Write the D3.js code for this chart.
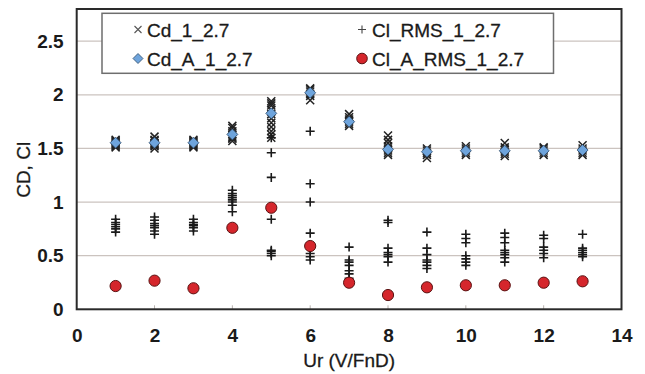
<!DOCTYPE html>
<html>
<head>
<meta charset="utf-8">
<script src="https://cdn.jsdelivr.net/npm/d3@7"></script>
<style>
  html, body { margin: 0; padding: 0; background: #fff; }
  svg { display: block; font-family: "Liberation Sans", Arial, sans-serif; }
</style>
</head>
<body>
<svg id="chart" width="645" height="374"></svg>
<script>
// Reduced velocity values
const ur = [1, 2, 3, 4, 5, 6, 7, 8, 9, 10, 11, 12, 13];

// Drag coefficient samples at each Ur (Cd_1_2.7)
const cdSamples = [
  [1.51, 1.53, 1.54, 1.55, 1.56, 1.57, 1.58, 1.52],
  [1.50, 1.52, 1.53, 1.54, 1.55, 1.57, 1.58, 1.61],
  [1.51, 1.52, 1.53, 1.54, 1.55, 1.56, 1.57, 1.58],
  [1.57, 1.59, 1.60, 1.61, 1.63, 1.66, 1.69, 1.71],
  [1.60, 1.63, 1.66, 1.70, 1.74, 1.78, 1.82, 1.86, 1.90, 1.92, 1.94],
  [1.95, 1.99, 2.01, 2.03, 2.05, 2.06],
  [1.71, 1.73, 1.75, 1.77, 1.79, 1.82],
  [1.44, 1.46, 1.48, 1.50, 1.52, 1.55, 1.58, 1.62],
  [1.41, 1.44, 1.46, 1.48, 1.50],
  [1.44, 1.46, 1.48, 1.50, 1.52],
  [1.43, 1.45, 1.47, 1.49, 1.51, 1.55],
  [1.44, 1.46, 1.48, 1.50, 1.51],
  [1.44, 1.46, 1.48, 1.50, 1.53]
];

// Lift coefficient RMS samples at each Ur (Cl_RMS_1_2.7)
const clRmsSamples = [
  [0.72, 0.75, 0.77, 0.79, 0.81, 0.84],
  [0.70, 0.73, 0.76, 0.78, 0.80, 0.83, 0.86],
  [0.73, 0.76, 0.78, 0.79, 0.81, 0.84],
  [0.91, 0.97, 1.00, 1.02, 1.04, 1.06, 1.08, 1.11],
  [0.50, 0.52, 0.54, 0.55, 0.84, 1.23, 1.46, 1.60],
  [0.46, 0.49, 0.52, 0.71, 1.00, 1.17, 1.66],
  [0.29, 0.33, 0.36, 0.41, 0.44, 0.46, 0.58],
  [0.44, 0.49, 0.51, 0.53, 0.57, 0.81, 0.83],
  [0.38, 0.41, 0.44, 0.46, 0.51, 0.57, 0.72],
  [0.41, 0.44, 0.47, 0.50, 0.62, 0.66, 0.70],
  [0.44, 0.48, 0.51, 0.53, 0.55, 0.62, 0.67, 0.71],
  [0.48, 0.52, 0.55, 0.58, 0.66, 0.69],
  [0.49, 0.51, 0.53, 0.55, 0.57, 0.70]
];

// Averaged drag coefficient (Cd_A_1_2.7)
const cdAvg = [1.553, 1.553, 1.553, 1.631, 1.827, 2.019, 1.749, 1.491, 1.469, 1.478, 1.478, 1.478, 1.485];

// Averaged lift RMS (Cl_A_RMS_1_2.7)
const clAvg = [0.217, 0.267, 0.196, 0.760, 0.947, 0.590, 0.248, 0.133, 0.205, 0.224, 0.224, 0.248, 0.261];

const xTicks = [0, 2, 4, 6, 8, 10, 12, 14];
const yTicks = [0, 0.5, 1, 1.5, 2, 2.5];
const yTickLabels = ["0", "0.5", "1", "1.5", "2", "2.5"];

const seriesNames = ["Cd_1_2.7", "Cl_RMS_1_2.7", "Cd_A_1_2.7", "Cl_A_RMS_1_2.7"];

const svg = d3.select("#chart");
const margin = { left: 76.7, right: 645 - 621.5, top: 9, bottom: 374 - 309.3 };
const W = 645 - margin.left - margin.right;
const H = 374 - margin.top - margin.bottom;

const x = d3.scaleLinear().domain([0, 14]).range([margin.left, margin.left + W]);
const y = d3.scaleLinear().domain([0, 2.8]).range([margin.top + H, margin.top]);

// Horizontal gridlines
svg.append("g")
  .selectAll("line")
  .data(yTicks.filter(d => d > 0))
  .join("line")
  .attr("x1", x(0)).attr("x2", x(14))
  .attr("y1", d => y(d)).attr("y2", d => y(d))
  .attr("stroke", "#cbc3bf").attr("stroke-width", 1.2);

// Small inner tick marks on the x axis
svg.append("g")
  .selectAll("line")
  .data(xTicks.slice(1, -1))
  .join("line")
  .attr("x1", d => x(d)).attr("x2", d => x(d))
  .attr("y1", y(0)).attr("y2", y(0) - 4)
  .attr("stroke", "#b8b2ae").attr("stroke-width", 1);

// Y axis labels
const yAxis = d3.axisLeft(y).tickValues(yTicks).tickSize(0).tickPadding(13)
  .tickFormat((d, i) => yTickLabels[i]);
svg.append("g")
  .attr("transform", `translate(${x(0)},0)`)
  .call(yAxis)
  .call(g => g.select(".domain").remove())
  .selectAll("text")
  .attr("font-family", "Liberation Sans, Arial, sans-serif")
  .attr("font-size", 19).attr("font-weight", "bold").attr("fill", "#1a1a1a");

// X axis labels
const xAxis = d3.axisBottom(x).tickValues(xTicks).tickSize(0).tickPadding(19)
  .tickFormat(d3.format("d"));
svg.append("g")
  .attr("transform", `translate(0,${y(0)})`)
  .call(xAxis)
  .call(g => g.select(".domain").remove())
  .selectAll("text")
  .attr("font-family", "Liberation Sans, Arial, sans-serif")
  .attr("font-size", 19).attr("font-weight", "bold").attr("fill", "#1a1a1a");

// Axis titles
svg.append("text")
  .attr("x", (x(0) + x(14)) / 2).attr("y", 367)
  .attr("text-anchor", "middle")
  .attr("font-size", 19).attr("fill", "#1a1a1a")
  .attr("stroke", "#1a1a1a").attr("stroke-width", 0.3)
  .text("Ur (V/FnD)");

svg.append("text")
  .attr("transform", `translate(30,${y(1.3)}) rotate(-90)`)
  .attr("text-anchor", "middle")
  .attr("font-size", 19).attr("fill", "#1a1a1a")
  .attr("stroke", "#1a1a1a").attr("stroke-width", 0.3)
  .text("CD, Cl");

// Marker drawers
const plot = svg.append("g");
function drawCross(g, cx, cy, r, color, sw) {
  g.append("path")
    .attr("d", `M${cx - r},${cy - r}L${cx + r},${cy + r}M${cx - r},${cy + r}L${cx + r},${cy - r}`)
    .attr("stroke", color).attr("stroke-width", sw).attr("fill", "none");
}
function drawPlus(g, cx, cy, r, color, sw) {
  g.append("path")
    .attr("d", `M${cx - r},${cy}L${cx + r},${cy}M${cx},${cy - r}L${cx},${cy + r}`)
    .attr("stroke", color).attr("stroke-width", sw).attr("fill", "none");
}
function drawDiamond(g, cx, cy, r) {
  g.append("path")
    .attr("d", `M${cx},${cy - r}L${cx + r},${cy}L${cx},${cy + r}L${cx - r},${cy}Z`)
    .attr("fill", "#6ea4dc").attr("stroke", "#2d4a6a").attr("stroke-width", 0.8);
}
function drawCircle(g, cx, cy, r) {
  g.append("circle")
    .attr("cx", cx).attr("cy", cy).attr("r", r)
    .attr("fill", "#d5262c").attr("stroke", "#5a1212").attr("stroke-width", 1);
}

// Cd samples (×)
ur.forEach((u, i) => cdSamples[i].forEach(v => drawCross(plot, x(u), y(v), 4, "#222", 1.5)));
// Cl RMS samples (+)
ur.forEach((u, i) => clRmsSamples[i].forEach(v => drawPlus(plot, x(u), y(v), 4.5, "#1a1a1a", 1.6)));
// Cd averages (diamonds)
ur.forEach((u, i) => drawDiamond(plot, x(u), y(cdAvg[i]), 5.5));
// Cl RMS averages (circles)
ur.forEach((u, i) => drawCircle(plot, x(u), y(clAvg[i]), 5.6));

// Plot frame
svg.append("rect")
  .attr("x", x(0)).attr("y", y(2.8))
  .attr("width", x(14) - x(0)).attr("height", y(0) - y(2.8))
  .attr("fill", "none").attr("stroke", "#2a2a2a").attr("stroke-width", 2);

// Legend
const legend = svg.append("g");
legend.append("rect")
  .attr("x", 102).attr("y", 13.3).attr("width", 451.5).attr("height", 60)
  .attr("fill", "#fff").attr("stroke", "#6e6e6e").attr("stroke-width", 1.5);

const legendPos = [
  { mx: 138, tx: 147, cy: 29.5 },
  { mx: 362, tx: 372, cy: 29.5 },
  { mx: 138, tx: 147, cy: 58.5 },
  { mx: 362, tx: 372, cy: 58.5 }
];
drawCross(legend, legendPos[0].mx, legendPos[0].cy, 3.5, "#555", 1.1);
drawPlus(legend, legendPos[1].mx, legendPos[1].cy, 4, "#444", 1.1);
drawDiamond(legend, legendPos[2].mx, legendPos[2].cy, 5);
drawCircle(legend, legendPos[3].mx, legendPos[3].cy, 5.3);

legend.selectAll("text")
  .data(seriesNames)
  .join("text")
  .attr("x", (d, i) => legendPos[i].tx)
  .attr("y", (d, i) => legendPos[i].cy + 7)
  .attr("font-size", 19).attr("fill", "#1a1a1a")
  .attr("stroke", "#1a1a1a").attr("stroke-width", 0.3)
  .text(d => d);
</script>
</body>
</html>
